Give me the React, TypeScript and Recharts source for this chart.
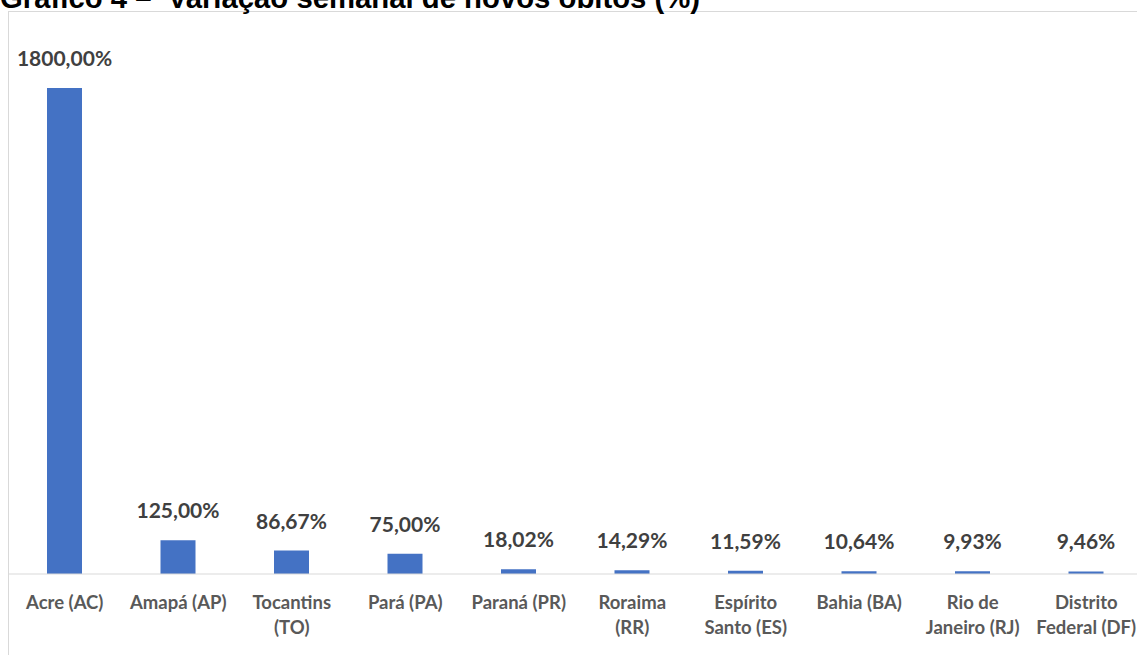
import React from 'react';
import { BarChart, Bar, XAxis, YAxis, LabelList } from 'recharts';

const title = 'Gráfico 4 –  Variação semanal de novos óbitos (%)';
const categories = [
  'Acre (AC)',
  'Amapá (AP)',
  'Tocantins (TO)',
  'Pará (PA)',
  'Paraná (PR)',
  'Roraima (RR)',
  'Espírito Santo (ES)',
  'Bahia (BA)',
  'Rio de Janeiro (RJ)',
  'Distrito Federal (DF)',
];
const tickLabelLines = [
  ['Acre (AC)'],
  ['Amapá (AP)'],
  ['Tocantins', '(TO)'],
  ['Pará (PA)'],
  ['Paraná (PR)'],
  ['Roraima', '(RR)'],
  ['Espírito', 'Santo (ES)'],
  ['Bahia (BA)'],
  ['Rio de', 'Janeiro (RJ)'],
  ['Distrito', 'Federal (DF)'],
];
const variation = [1800, 125, 86.67, 75, 18.02, 14.29, 11.59, 10.64, 9.93, 9.46];
const yDomain = [0, 2000];

const data = categories.map((name, i) => ({ name, value: variation[i], idx: i }));

const fmt = (v: number) => v.toFixed(2).replace('.', ',') + '%';

const FONT = 'Lato, "Open Sans", sans-serif';

const Tick = (props: any) => {
  const { x, y, payload, index } = props;
  const idx = categories.indexOf(payload.value);
  const lines = tickLabelLines[idx >= 0 ? idx : index] || [payload.value];
  return (
    <g>
      {lines.map((ln: string, i: number) => (
        <text
          key={i}
          x={x}
          y={y + 35 + i * 25}
          textAnchor="middle"
          fill="#595959"
          fontFamily={FONT}
          fontWeight={700}
          fontSize={18.5}
        >
          {ln}
        </text>
      ))}
    </g>
  );
};

const ValueLabel = (props: any) => {
  const { x, y, width, value } = props;
  return (
    <text
      x={x + width / 2}
      y={y - 22}
      textAnchor="middle"
      fill="#404040"
      fontFamily={FONT}
      fontWeight={700}
      fontSize={21}
    >
      {fmt(value)}
    </text>
  );
};

export default function App() {
  return (
    <div
      style={{
        position: 'absolute',
        left: 0,
        top: 0,
        width: 1137,
        height: 655,
        overflow: 'hidden',
        background: '#ffffff',
      }}
    >
      <div
        style={{
          position: 'absolute',
          left: 8,
          top: 11,
          width: 1200,
          height: 700,
          border: '1px solid #d9d9d9',
          boxSizing: 'border-box',
        }}
      />
      <svg
        width={1137}
        height={30}
        style={{ position: 'absolute', left: 0, top: 0, overflow: 'visible' }}
      >
        <text
          x={0}
          y={8}
          fontFamily='"Liberation Sans", Arial, sans-serif'
          fontWeight={700}
          fontSize={29.3}
          fill="#000000"
          style={{ whiteSpace: 'pre' }}
        >
          {title}
        </text>
      </svg>
      <div style={{ position: 'absolute', left: 0, top: 0 }}>
        <BarChart
          width={1150}
          height={655}
          data={data}
          margin={{ top: 34, left: 8, right: 7, bottom: 0 }}
        >
          <XAxis
            dataKey="name"
            height={81}
            interval={0}
            tickLine={false}
            tickSize={0}
            tickMargin={0}
            axisLine={{ stroke: '#d9d9d9', strokeWidth: 1 }}
            tick={<Tick />}
          />
          <YAxis hide domain={yDomain} />
          <Bar dataKey="value" fill="#4472C4" barSize={35} isAnimationActive={false}>
            <LabelList dataKey="value" content={<ValueLabel />} />
          </Bar>
        </BarChart>
      </div>
    </div>
  );
}
